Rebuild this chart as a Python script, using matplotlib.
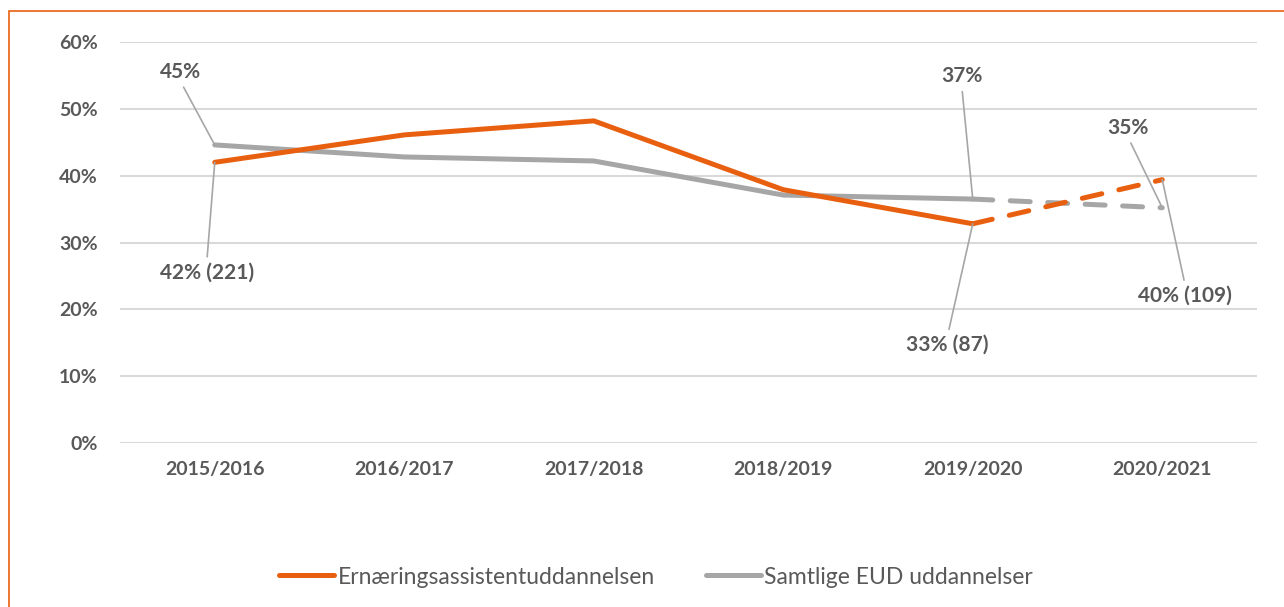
import matplotlib.pyplot as plt
from matplotlib.patches import Rectangle
from matplotlib.ticker import PercentFormatter

years = ["2015/2016", "2016/2017", "2017/2018", "2018/2019", "2019/2020", "2020/2021"]
ernaering = [0.420, 0.461, 0.482, 0.379, 0.328, 0.394]
samtlige = [0.446, 0.428, 0.422, 0.371, 0.365, 0.352]

orange = "#E8600F"
grey = "#A6A6A6"
text_c = "#595959"

plt.rcParams["font.family"] = ["Lato", "DejaVu Sans"]

fig = plt.figure(figsize=(12.84, 6.07), dpi=100)
ax = fig.add_axes([120 / 1284, 1 - 443 / 607, (1257 - 120) / 1284, (443 - 42) / 607])

x = list(range(len(years)))
lw = 3.6

# solid part up to 2019/2020, dashed for the last step
ax.plot(x[:5], samtlige[:5], color=grey, lw=lw, solid_capstyle="round",
        label="Samtlige EUD uddannelser", zorder=3)
ax.plot(x[4:], samtlige[4:], color=grey, lw=lw, ls=(0, (4, 3.5)),
        dash_capstyle="round", zorder=3)
ax.plot(x[:5], ernaering[:5], color=orange, lw=lw, solid_capstyle="round",
        label="Ernæringsassistentuddannelsen", zorder=4)
ax.plot(x[4:], ernaering[4:], color=orange, lw=lw, ls=(0, (4, 3.5)),
        dash_capstyle="round", zorder=4)

ax.set_xlim(-0.5, 5.5)
ax.set_ylim(0, 0.6)
ax.set_yticks([0, 0.1, 0.2, 0.3, 0.4, 0.5, 0.6])
ax.yaxis.set_major_formatter(PercentFormatter(1.0, decimals=0))
ax.set_xticks(x)
ax.set_xticklabels(years)
ax.grid(axis="y", color="#D9D9D9", lw=1.5, zorder=0)
ax.set_axisbelow(True)
for s in ax.spines.values():
    s.set_visible(False)
ax.tick_params(length=0, labelsize=14, colors=text_c, pad=13)
ax.tick_params(axis="y", pad=16)
for t in ax.get_xticklabels() + ax.get_yticklabels():
    t.set_fontweight("bold")

# data labels with leader lines (offsets in pixels)
labels = [
    (0, samtlige[0], "45%", (-34, 73), (0.5, 0)),
    (0, ernaering[0], "42% (221)", (-8, -110), (0.5, 1)),
    (4, samtlige[4], "37%", (-11, 123), (0.5, 0)),
    (4, ernaering[4], "33% (87)", (-25, -121), (0.5, 1)),
    (5, samtlige[5], "35%", (-34, 80), (0.5, 0)),
    (5, ernaering[5], "40% (109)", (23, -116), (0.5, 1)),
]
for xi, yi, txt, off, rel in labels:
    ax.annotate(txt, xy=(xi, yi), xytext=off, textcoords="offset pixels",
                ha="center", va="center", fontsize=15, fontweight="bold",
                color=text_c, zorder=5,
                arrowprops=dict(arrowstyle="-", color=grey, lw=1.2,
                                relpos=rel, shrinkA=2, shrinkB=0))

leg = fig.legend(loc="center", bbox_to_anchor=(0.511, 1 - 577 / 607), ncol=2,
                 frameon=False, handlelength=2.4, handletextpad=0.15,
                 columnspacing=2.2, fontsize=16.5,
                 handles=ax.get_lines()[2:3] + ax.get_lines()[0:1])
for t in leg.get_texts():
    t.set_color(text_c)

# orange frame around the chart
fig.patches.append(Rectangle((9 / 1284, -0.05), 1.1, 1 - 11 / 607 + 0.05,
                             transform=fig.transFigure, fill=False,
                             edgecolor=orange, lw=1.2))

fig.savefig("out.png", dpi=100)
